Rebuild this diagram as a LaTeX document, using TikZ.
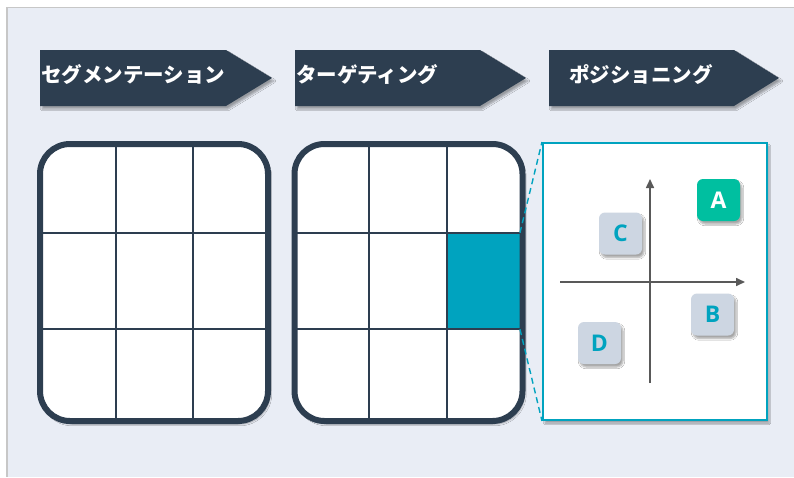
\documentclass[tikz,border=0pt]{standalone}
\usepackage{fontspec}
\newfontfamily\jp{Noto Sans CJK JP}
\newfontfamily\lat{Open Sans}
\usetikzlibrary{shadows,shadows.blur,arrows.meta}
\definecolor{navy}{HTML}{2D3E50}
\definecolor{bgc}{HTML}{E9EDF5}
\definecolor{tealc}{HTML}{00A3BF}
\definecolor{greenc}{HTML}{00BFA0}
\definecolor{chipc}{HTML}{CDD6E2}
\definecolor{axisc}{HTML}{595959}
\tikzset{
  shd/.style={blur shadow={shadow xshift=2pt, shadow yshift=-3pt, shadow blur steps=6, shadow opacity=35}},
  stepbox/.style={fill=navy, shd},
  steptext/.style={anchor=west, inner sep=0pt, text=white, font=\jp\bfseries\fontsize{20.5}{21}\selectfont},
  gridline/.style={draw=navy, line width=1.6pt},
  gridframe/.style={draw=navy, line width=6pt, rounded corners=30pt},
  chip/.style={rounded corners=6pt, minimum width=43pt, minimum height=42pt, inner sep=0pt, fill=chipc, text=tealc, font=\lat\bfseries\fontsize{23}{23}\selectfont, shd},
  axisline/.style={draw=axisc, line width=1.6pt, -{Triangle[length=9pt,width=8pt]}},
  zoomline/.style={draw=tealc, line width=1.4pt, dash pattern=on 6pt off 4pt},
}
\begin{document}
\begin{tikzpicture}[x=1pt,y=-1pt]
\useasboundingbox (0,0) rectangle (794,477);
\fill[white] (0,0) rectangle (794,477);
\fill[black!22] (6,7) rectangle (794,477);
\fill[bgc] (8,8) rectangle (794,477);

% step arrows
\path[stepbox] (40,50) -- (226,50) -- (272,78) -- (226,106) -- (40,106) -- cycle;
\path[stepbox] (295,50) -- (480,50) -- (526,78) -- (480,106) -- (295,106) -- cycle;
\path[stepbox] (549,50) -- (734,50) -- (779,78) -- (734,106) -- (549,106) -- cycle;
\node[steptext] (s1) at (41,75) {セグメンテーション};
\node[steptext] (s2) at (296,75) {ターゲティング};
\node[steptext] (s3) at (569,75) {ポジショニング};

% grid 1
\path[fill=white, rounded corners=30pt, shd] (40,144) rectangle (268,421);
\draw[gridline] (116,144) -- (116,421);
\draw[gridline] (193,144) -- (193,421);
\draw[gridline] (40,233) -- (268,233);
\draw[gridline] (40,329) -- (268,329);
\draw[gridframe] (40,144) rectangle (268,421);

% grid 2
\path[fill=white, rounded corners=30pt, shd] (294.5,144) rectangle (522.5,421);
\node[fill=tealc, inner sep=0pt, minimum width=73pt, minimum height=96pt] (tcell) at (483.25,281) {};
\draw[gridline] (369,144) -- (369,421);
\draw[gridline] (447,144) -- (447,421);
\draw[gridline] (294.5,233) -- (522.5,233);
\draw[gridline] (294.5,329) -- (522.5,329);
\draw[gridframe] (294.5,144) rectangle (522.5,421);

% positioning box
\node[draw=tealc, line width=2pt, fill=white, inner sep=0pt, minimum width=224pt, minimum height=277pt, shd] (pbox) at (655,281.5) {};
\draw[zoomline] (tcell.north east) -- (pbox.north west);
\draw[zoomline] (tcell.south east) -- (pbox.south west);

% axes
\coordinate (vb) at (650,383);
\coordinate (vt) at (650,179);
\coordinate (hl) at (560,282);
\coordinate (hr) at (745,282);
\draw[axisline] (vb) -- (vt);
\draw[axisline] (hl) -- (hr);

% chips
\node[chip, fill=greenc, text=white] (A) at (718.5,200) {A};
\node[chip] (C) at (620.5,233.5) {C};
\node[chip] (B) at (712.5,314.5) {B};
\node[chip] (D) at (599.5,343) {D};
\end{tikzpicture}
\end{document}
